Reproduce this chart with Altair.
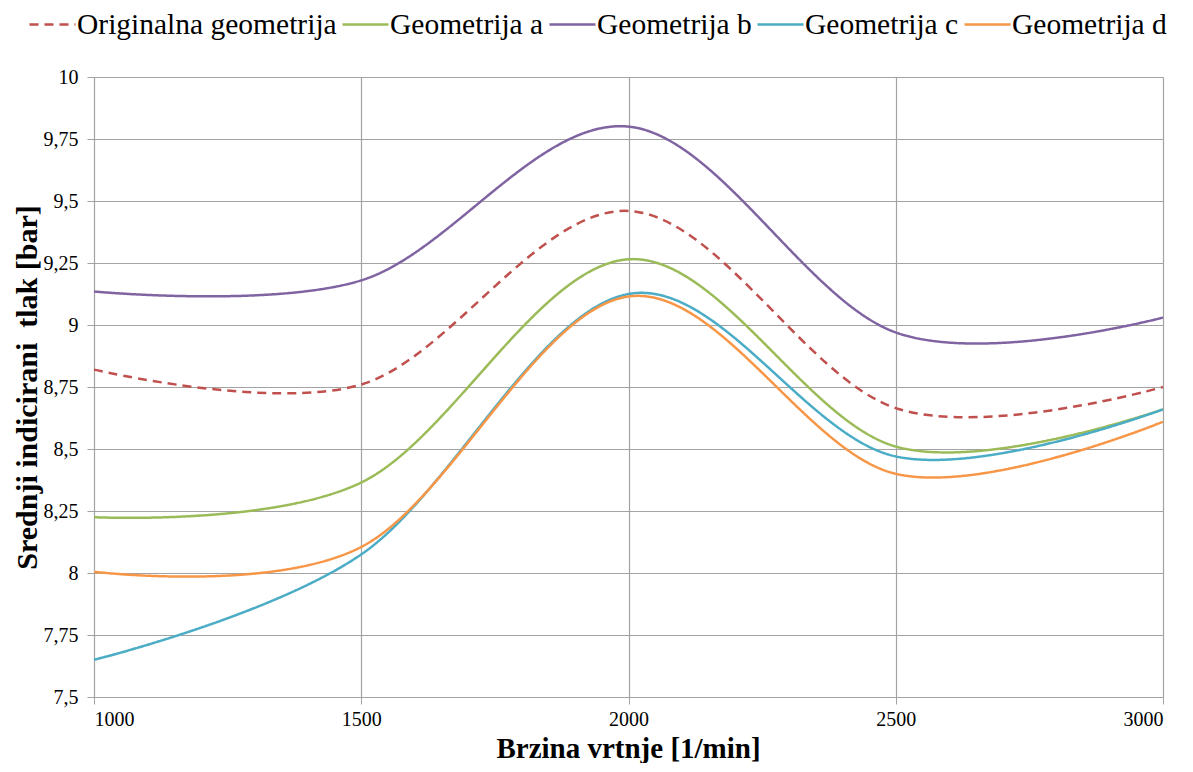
import altair as alt
import pandas as pd

speeds = [1000, 1500, 2000, 2500, 3000]
series_names = ["Originalna geometrija", "Geometrija a", "Geometrija b", "Geometrija c", "Geometrija d"]
original = [8.82, 8.76, 9.46, 8.665, 8.75]
geo_a = [8.225, 8.365, 9.265, 8.51, 8.66]
geo_b = [9.135, 9.18, 9.80, 8.97, 9.03]
geo_c = [7.65, 8.075, 9.125, 8.47, 8.66]
geo_d = [8.005, 8.105, 9.115, 8.40, 8.61]
colors = ["#C0504D", "#9BBB59", "#8064A2", "#4BACC6", "#F79646"]
dashes = [[9, 6], [1, 0], [1, 0], [1, 0], [1, 0]]
x_ticks = [1000, 1500, 2000, 2500, 3000]
y_ticks = [7.5, 7.75, 8, 8.25, 8.5, 8.75, 9, 9.25, 9.5, 9.75, 10]

rows = []
for name, vals in zip(series_names, [original, geo_a, geo_b, geo_c, geo_d]):
    for s, v in zip(speeds, vals):
        rows.append({"speed": s, "value": v, "series": name})
df = pd.DataFrame(rows)

TITLE_FONT = "Liberation Serif"
LABEL_FONT = "serif"
GRID = "#a3a3a3"

legend = alt.Legend(
    title=None, orient="none", legendX=-66, legendY=-77, direction="horizontal",
    columns=5, symbolType="stroke", symbolSize=2116, symbolStrokeWidth=2.5,
    labelFont=LABEL_FONT, labelFontSize=29.5, labelColor="black", labelOffset=0,
    columnPadding=0, padding=0, labelLimit=400, labelFontWeight="normal",
)

chart = alt.Chart(df).mark_line(interpolate="cardinal", strokeWidth=2.5).encode(
    x=alt.X("speed:Q",
            scale=alt.Scale(domain=[1000, 3000], nice=False, zero=False),
            axis=alt.Axis(values=x_ticks, title="Brzina vrtnje [1/min]", format="d",
                          labelFont=LABEL_FONT, labelFontSize=20, labelColor="black",
                          labelPadding=5, tickSize=7, tickColor=GRID, domainColor=GRID,
                          gridColor=GRID, gridWidth=1.2,
                          titleFont=TITLE_FONT, titleFontSize=29, titleFontWeight="bold",
                          titleColor="black", titleX=534, titleY=51,
                          titleBaseline="middle", titleAlign="center")),
    y=alt.Y("value:Q",
            scale=alt.Scale(domain=[7.5, 10], nice=False, zero=False),
            axis=alt.Axis(values=y_ticks, title="Srednji indicirani\u00a0\u00a0tlak [bar]",
                          labelExpr="replace(toString(datum.value), '.', ',')",
                          labelFont=LABEL_FONT, labelFontSize=20, labelColor="black",
                          labelPadding=9, tickSize=7, tickColor=GRID, domainColor=GRID,
                          gridColor=GRID, gridWidth=1.2,
                          titleFont=TITLE_FONT, titleFontSize=30, titleFontWeight="bold",
                          titleColor="black", titleAngle=-90, titleX=-67, titleY=310,
                          titleBaseline="middle", titleAlign="center")),
    color=alt.Color("series:N", scale=alt.Scale(domain=series_names, range=colors),
                    sort=series_names, legend=legend),
    strokeDash=alt.StrokeDash("series:N", scale=alt.Scale(domain=series_names, range=dashes),
                              sort=series_names, legend=legend),
).properties(
    width=1069, height=620,
    autosize=alt.AutoSizeParams(type="none"),
    padding={"left": 86, "top": 69, "right": 22, "bottom": 66},
).configure_view(stroke=None)

chart.save("out.html", embed_options={"renderer": "svg", "actions": False})
